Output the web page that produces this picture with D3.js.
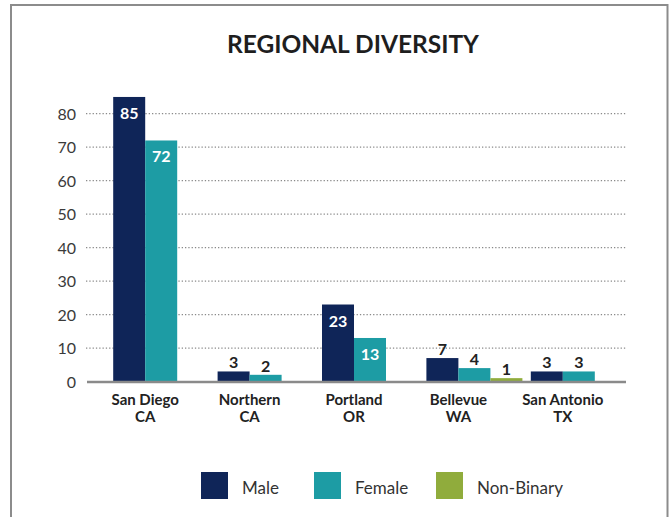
<!DOCTYPE html>
<html>
<head>
<meta charset="utf-8">
<script src="https://cdn.jsdelivr.net/npm/d3@7"></script>
<style>
  html, body { margin: 0; padding: 0; background: #fff; }
  svg { display: block; font-family: Lato, "Open Sans", sans-serif; }
</style>
</head>
<body>
<svg id="chart" width="669" height="517"></svg>
<script>
// Regional headcount by gender
const regions = ["San Diego\nCA", "Northern\nCA", "Portland\nOR", "Bellevue\nWA", "San Antonio\nTX"];
const seriesNames = ["Male", "Female", "Non-Binary"];
const male      = [85, 3, 23, 7, 3];
const female    = [72, 2, 13, 4, 3];
const nonBinary = [0, 0, 0, 1, 0];
const yTicks = [0, 10, 20, 30, 40, 50, 60, 70, 80];
const seriesColors = ["#0f2558", "#1d9ca4", "#90ac3c"];

const seriesValues = [male, female, nonBinary];

const svg = d3.select("#chart");

// outer frame
svg.append("rect")
  .attr("x", 11).attr("y", 5)
  .attr("width", 656.5).attr("height", 540)
  .attr("fill", "none")
  .attr("stroke", "#8c8c8c")
  .attr("stroke-width", 2);

// title
svg.append("text")
  .attr("x", 353).attr("y", 52.5)
  .attr("text-anchor", "middle")
  .attr("font-family", "Lato, sans-serif")
  .attr("font-weight", 700)
  .attr("font-size", 24)
  .attr("fill", "#1e1e1e")
  .attr("textLength", 252)
  .attr("lengthAdjust", "spacingAndGlyphs")
  .text("REGIONAL DIVERSITY");

const y = d3.scaleLinear().domain([0, 80]).range([381.5, 113.7]);

const x0 = d3.scaleBand().domain(regions).range([93, 615]).padding(0);
const barW = 32;
// male sits left of the group centre, female right, non-binary after female
const x1 = d3.scaleBand().domain(seriesNames).range([-barW, 2 * barW]).padding(0);

// dotted gridlines
svg.append("g")
  .selectAll("line")
  .data(yTicks.filter(d => d > 0))
  .join("line")
  .attr("x1", 86).attr("x2", 627)
  .attr("y1", d => y(d)).attr("y2", d => y(d))
  .attr("stroke", "#8a8a8a")
  .attr("stroke-width", 1.3)
  .attr("stroke-dasharray", "1.3,2");

// y axis labels
const yAxis = d3.axisLeft(y).tickValues(yTicks).tickSize(0).tickPadding(0);
const yg = svg.append("g").attr("transform", "translate(76,0)").call(yAxis);
yg.select(".domain").remove();
yg.selectAll("text")
  .attr("font-family", "Lato, sans-serif")
  .attr("font-size", 16)
  .attr("fill", "#3a3a3a")
  .attr("dy", "0.36em");

// bars
const rows = [];
regions.forEach((r, i) => {
  seriesNames.forEach((s, k) => {
    const v = seriesValues[k][i];
    if (v > 0) rows.push({ region: r, series: s, value: v, k });
  });
});

const cx = r => x0(r) + x0.bandwidth() / 2;

svg.append("g")
  .selectAll("rect")
  .data(rows)
  .join("rect")
  .attr("x", d => cx(d.region) + x1(d.series))
  .attr("y", d => y(d.value))
  .attr("width", x1.bandwidth())
  .attr("height", d => y(0) - y(d.value))
  .attr("fill", d => seriesColors[d.k]);

// value labels
svg.append("g")
  .selectAll("text")
  .data(rows)
  .join("text")
  .attr("x", d => cx(d.region) + x1(d.series) + x1.bandwidth() / 2)
  .attr("y", d => d.value >= 10 ? y(d.value) + 22 : y(d.value) - 3)
  .attr("text-anchor", "middle")
  .attr("font-family", "Lato, sans-serif")
  .attr("font-weight", 700)
  .attr("font-size", 16)
  .attr("fill", d => d.value >= 10 ? "#ffffff" : "#222222")
  .text(d => d.value);

// baseline
svg.append("line")
  .attr("x1", 87).attr("x2", 626)
  .attr("y1", y(0) + 0.5).attr("y2", y(0) + 0.5)
  .attr("stroke", "#8a8a8a")
  .attr("stroke-width", 2.5);

// category labels
const xl = svg.append("g")
  .selectAll("text")
  .data(regions)
  .join("text")
  .attr("x", d => cx(d))
  .attr("y", 405)
  .attr("text-anchor", "middle")
  .attr("font-family", "Lato, sans-serif")
  .attr("font-weight", 700)
  .attr("font-size", 15)
  .attr("fill", "#222");
xl.selectAll("tspan")
  .data(d => d.split("\n"))
  .join("tspan")
  .attr("x", function () { return d3.select(this.parentNode).attr("x"); })
  .attr("dy", (d, i) => i === 0 ? 0 : 17)
  .text(d => d);

// legend
const legendX = [201, 314, 436];
const lg = svg.append("g")
  .selectAll("g")
  .data(seriesNames)
  .join("g")
  .attr("transform", (d, i) => `translate(${legendX[i]},472)`);
lg.append("rect")
  .attr("width", 27).attr("height", 27)
  .attr("fill", (d, i) => seriesColors[i]);
lg.append("text")
  .attr("x", 41).attr("y", 21.5)
  .attr("font-family", "Lato, sans-serif")
  .attr("font-size", 17)
  .attr("fill", "#333")
  .text(d => d);
</script>
</body>
</html>
